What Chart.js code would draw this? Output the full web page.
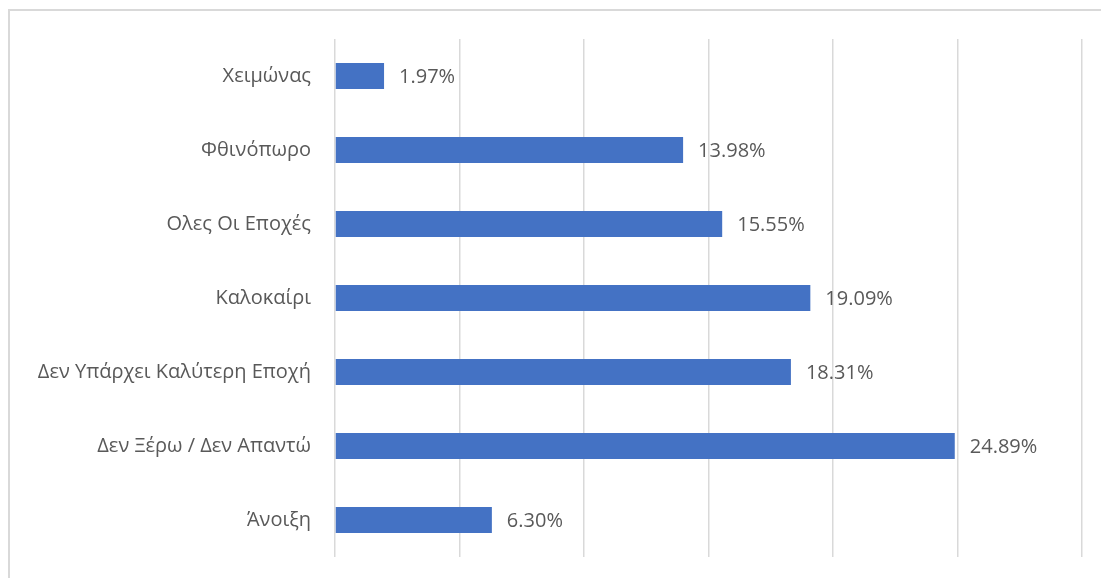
<!DOCTYPE html>
<html>
<head>
<meta charset="utf-8">
<script src="https://cdn.jsdelivr.net/npm/chart.js@4.4.0/dist/chart.umd.min.js"></script>
<style>
  html, body { margin: 0; padding: 0; background: #fff; }
  #wrap { position: relative; width: 1101px; height: 578px; overflow: hidden; }
  #frame { position: absolute; left: 8px; top: 9px; width: 1200px; height: 700px; border: 2px solid #d9d9d9; box-sizing: border-box; }
  #box { position: absolute; left: 0; top: 0; width: 1101px; height: 578px; }
</style>
</head>
<body>
<div id="wrap">
  <div id="frame"></div>
  <div id="box"><canvas id="chart"></canvas></div>
</div>
<script>
// seasons, top to bottom as in the picture
const seasons = ['Χειμώνας', 'Φθινόπωρο', 'Ολες Οι Εποχές', 'Καλοκαίρι', 'Δεν Υπάρχει Καλύτερη Εποχή', 'Δεν Ξέρω / Δεν Απαντώ', 'Άνοιξη'];
const shares = [1.97, 13.98, 15.55, 19.09, 18.31, 24.89, 6.30];
const axisMax = 30;
const axisStep = 5;

const textColor = '#595959';
const fontFamily = "'Open Sans', 'Noto Sans', sans-serif";

// percent labels to the right of each bar
const barLabels = {
  id: 'barLabels',
  afterDatasetsDraw(chart) {
    const ctx = chart.ctx;
    const meta = chart.getDatasetMeta(0);
    ctx.save();
    ctx.fillStyle = textColor;
    ctx.font = '20px ' + fontFamily;
    ctx.textAlign = 'left';
    ctx.textBaseline = 'middle';
    meta.data.forEach((bar, i) => {
      ctx.fillText(shares[i].toFixed(2) + '%', bar.x + 15, bar.y + 1);
    });
    ctx.restore();
  }
};

new Chart(document.getElementById('chart'), {
  type: 'bar',
  data: {
    labels: seasons,
    datasets: [{
      data: shares,
      backgroundColor: '#4472C4',
      borderWidth: 0,
      barPercentage: 0.35,
      categoryPercentage: 1
    }]
  },
  options: {
    indexAxis: 'y',
    responsive: true,
    maintainAspectRatio: false,
    animation: false,
    layout: { padding: { left: 0, right: 19, top: 39, bottom: 21 } },
    plugins: { legend: { display: false }, tooltip: { enabled: false } },
    scales: {
      x: {
        min: 0,
        max: axisMax,
        ticks: { display: false, stepSize: axisStep },
        grid: { color: '#d9d9d9', lineWidth: 1.5, drawTicks: false },
        border: { display: false },
        afterFit(scale) { scale.height = 0; }
      },
      y: {
        grid: { display: false, drawTicks: false },
        border: { display: false },
        ticks: { color: textColor, font: { size: 20, family: fontFamily }, padding: 24 },
        afterFit(scale) {
          // tick padding would otherwise push the plot bottom up
          scale.width = 335;
          scale.paddingTop = 0;
          scale.paddingBottom = 0;
        }
      }
    }
  },
  plugins: [barLabels]
});
</script>
</body>
</html>
